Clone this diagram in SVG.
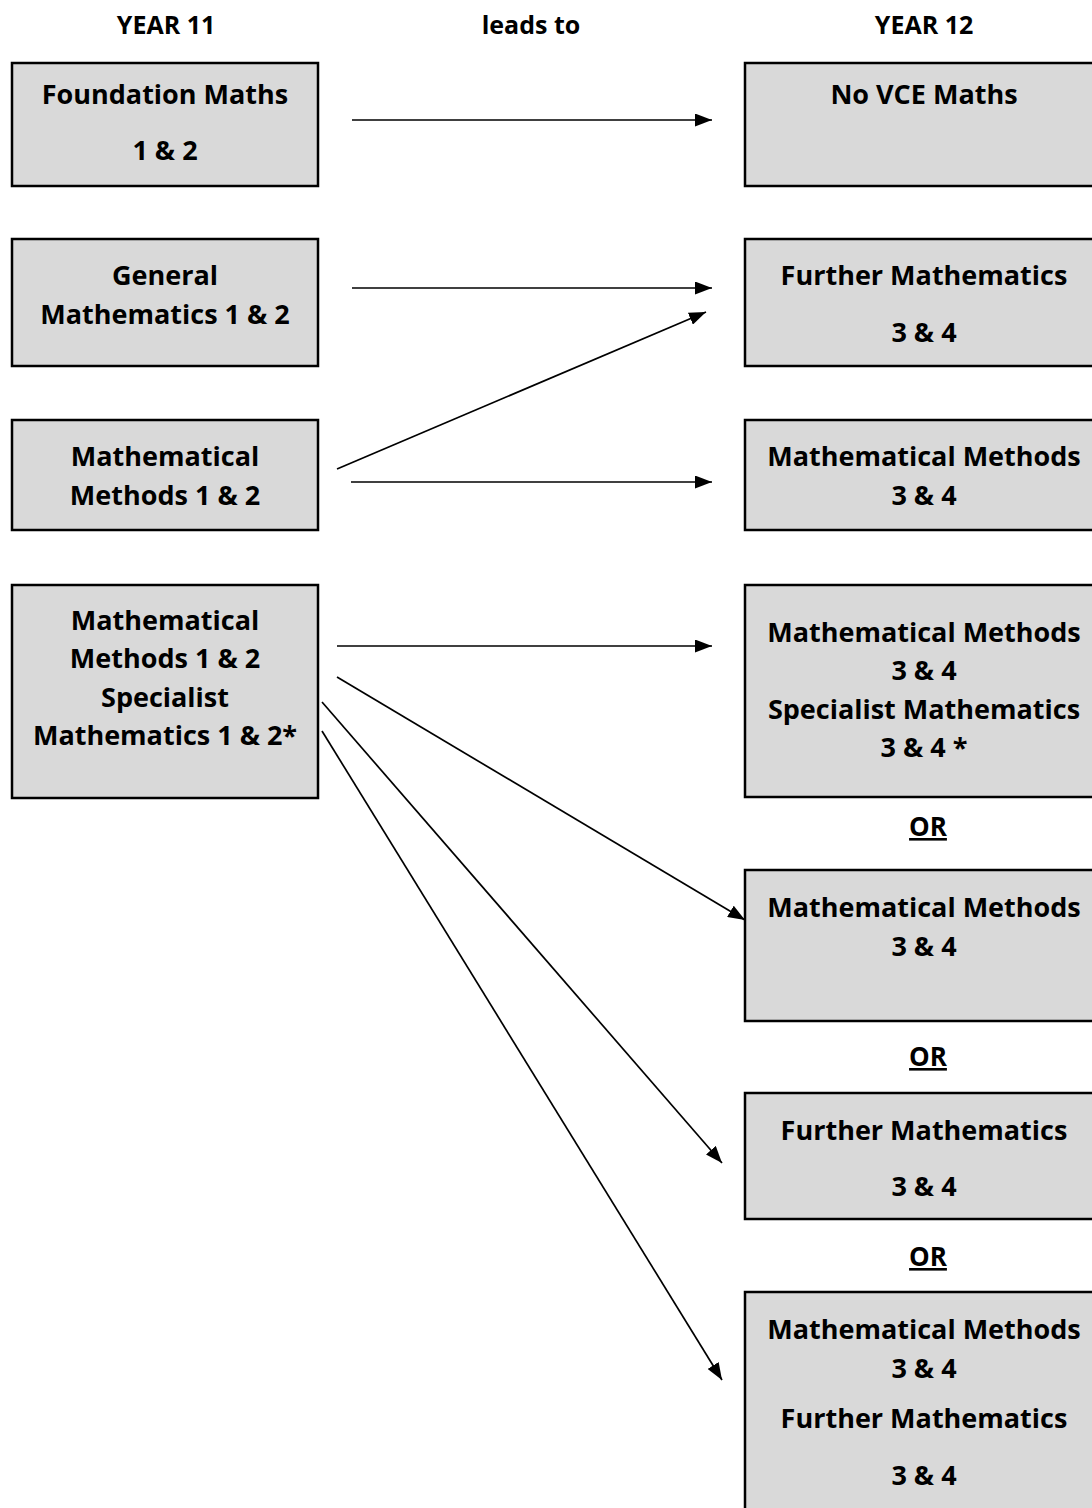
<svg xmlns="http://www.w3.org/2000/svg" width="1092" height="1508" viewBox="0 0 1092 1508">
<defs>
<style>
.box{fill:#d9d9d9;stroke:#000;stroke-width:2.5}
.t{font-family:"Open Sans",Lato,"Liberation Sans",sans-serif;font-weight:bold;font-size:27px;fill:#000;text-anchor:middle}
.h{font-size:25px}
.or{font-size:26px;text-decoration:underline}
.c{stroke:#000;stroke-width:1.7;fill:none;marker-end:url(#ah)}
</style>
<marker id="ah" viewBox="0 0 17 13" refX="17" refY="6.5" markerWidth="17" markerHeight="13" markerUnits="userSpaceOnUse" orient="auto">
<path d="M0,0 L17,6.5 L0,13 z" fill="#000"/>
</marker>
</defs>
<rect width="1092" height="1508" fill="#fff"/>
<g id="headers">
<text class="t h" x="166" y="34">YEAR 11</text>
<text class="t h" x="531" y="34">leads to</text>
<text class="t h" x="924" y="34">YEAR 12</text>
</g>
<g id="n-foundation">
<rect class="box" x="12" y="63" width="306" height="123"/>
<text class="t" x="165" y="104">Foundation Maths</text>
<text class="t" x="165" y="160">1 &amp; 2</text>
</g>
<g id="n-general">
<rect class="box" x="12" y="239" width="306" height="127"/>
<text class="t" x="165" y="285">General</text>
<text class="t" x="165" y="324">Mathematics 1 &amp; 2</text>
</g>
<g id="n-methods12">
<rect class="box" x="12" y="420" width="306" height="110"/>
<text class="t" x="165" y="466">Mathematical</text>
<text class="t" x="165" y="505">Methods 1 &amp; 2</text>
</g>
<g id="n-methodsspec12">
<rect class="box" x="12" y="585" width="306" height="213"/>
<text class="t" x="165" y="630">Mathematical</text>
<text class="t" x="165" y="668">Methods 1 &amp; 2</text>
<text class="t" x="165" y="707">Specialist</text>
<text class="t" x="165" y="745">Mathematics 1 &amp; 2*</text>
</g>
<g id="n-novce">
<rect class="box" x="745" y="63" width="360" height="123"/>
<text class="t" x="924" y="104">No VCE Maths</text>
</g>
<g id="n-further34">
<rect class="box" x="745" y="239" width="360" height="127"/>
<text class="t" x="924" y="285">Further Mathematics</text>
<text class="t" x="924" y="342">3 &amp; 4</text>
</g>
<g id="n-methods34">
<rect class="box" x="745" y="420" width="360" height="110"/>
<text class="t" x="924" y="466">Mathematical Methods</text>
<text class="t" x="924" y="505">3 &amp; 4</text>
</g>
<g id="n-methodsspec34">
<rect class="box" x="745" y="585" width="360" height="212"/>
<text class="t" x="924" y="642">Mathematical Methods</text>
<text class="t" x="924" y="680">3 &amp; 4</text>
<text class="t" x="924" y="719">Specialist Mathematics</text>
<text class="t" x="924" y="757">3 &amp; 4 *</text>
</g>
<g id="or1"><text class="t or" x="928" y="836">OR</text></g>
<g id="n-methods34b">
<rect class="box" x="745" y="870" width="360" height="151"/>
<text class="t" x="924" y="917">Mathematical Methods</text>
<text class="t" x="924" y="956">3 &amp; 4</text>
</g>
<g id="or2"><text class="t or" x="928" y="1066">OR</text></g>
<g id="n-further34b">
<rect class="box" x="745" y="1093" width="360" height="126"/>
<text class="t" x="924" y="1140">Further Mathematics</text>
<text class="t" x="924" y="1196">3 &amp; 4</text>
</g>
<g id="or3"><text class="t or" x="928" y="1266">OR</text></g>
<g id="n-methodsfurther34">
<rect class="box" x="745" y="1292" width="360" height="240"/>
<text class="t" x="924" y="1339">Mathematical Methods</text>
<text class="t" x="924" y="1378">3 &amp; 4</text>
<text class="t" x="924" y="1428">Further Mathematics</text>
<text class="t" x="924" y="1485">3 &amp; 4</text>
</g>
<g id="connectors">
<line class="c" x1="352" y1="120" x2="712" y2="120"/>
<line class="c" x1="352" y1="288" x2="712" y2="288"/>
<line class="c" x1="337" y1="469" x2="706" y2="312"/>
<line class="c" x1="351" y1="482" x2="712" y2="482"/>
<line class="c" x1="337" y1="646" x2="712" y2="646"/>
<line class="c" x1="337" y1="677" x2="745" y2="920"/>
<line class="c" x1="322" y1="702" x2="722" y2="1163"/>
<line class="c" x1="322" y1="731" x2="722" y2="1380"/>
</g>
</svg>
